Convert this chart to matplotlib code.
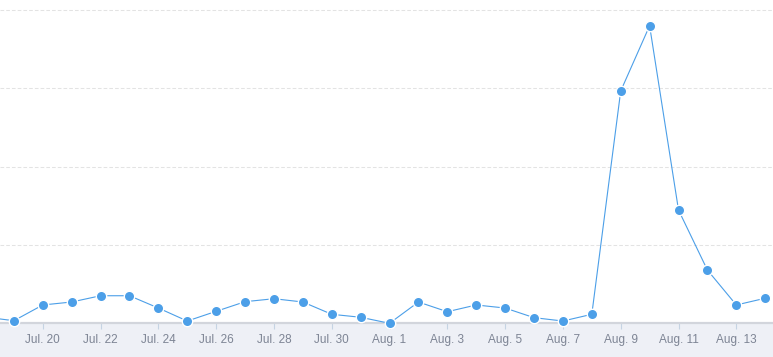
import numpy as np
import matplotlib
matplotlib.use("Agg")
import matplotlib.pyplot as plt

# daily values, Jul. 18 .. Aug. 14
days = ["Jul. 18", "Jul. 19", "Jul. 20", "Jul. 21", "Jul. 22", "Jul. 23", "Jul. 24",
        "Jul. 25", "Jul. 26", "Jul. 27", "Jul. 28", "Jul. 29", "Jul. 30", "Jul. 31",
        "Aug. 1", "Aug. 2", "Aug. 3", "Aug. 4", "Aug. 5", "Aug. 6", "Aug. 7",
        "Aug. 8", "Aug. 9", "Aug. 10", "Aug. 11", "Aug. 12", "Aug. 13", "Aug. 14"]
values = [8, 3.3, 23.4, 27.2, 35.2, 35.2, 19.5,
          2.9, 15.3, 27.6, 31.4, 27.2, 11.5, 7.7,
          0, 27.2, 14.8, 23.4, 19.5, 7.2, 2.9,
          11.5, 296.7, 380, 144.7, 68, 23.4, 32]
grid_levels = [100, 200, 300, 400]

W, H = 773, 357
fig = plt.figure(figsize=(W / 100, H / 100), dpi=100, facecolor="#eef0f6")
base_px = 323.3
ax = fig.add_axes([0, (H - base_px) / H, 1, base_px / H])
ax.set_facecolor("white")

x = np.arange(len(days))
ax.plot(x, values, color="#4c9fe8", lw=0.8, marker="o", ms=7.5,
        mfc="#4c9fe8", mec="white", mew=1.0, clip_on=False, zorder=5)

for g in grid_levels:
    ax.axhline(g, color="#e3e3e3", lw=0.75, ls=(0, (3.5, 2)), zorder=1)

ax.set_xticks(x[::2])
ax.set_xticklabels(days[::2], fontsize=8.5, color="#7d8494", family="Liberation Sans")
ax.tick_params(axis="x", length=4, width=0.8, color="#c5d3e3", pad=4)
ax.set_yticks([])

# set limits after the ticks, otherwise set_xticks widens the view
ax.set_xlim(0.52, 27.27)
ax.set_ylim(0, 412.9)

for s in ["top", "left", "right"]:
    ax.spines[s].set_visible(False)
ax.spines["bottom"].set_color("#d2d5dc")
ax.spines["bottom"].set_linewidth(1.6)

fig.savefig("out.png", dpi=100, facecolor=fig.get_facecolor())
